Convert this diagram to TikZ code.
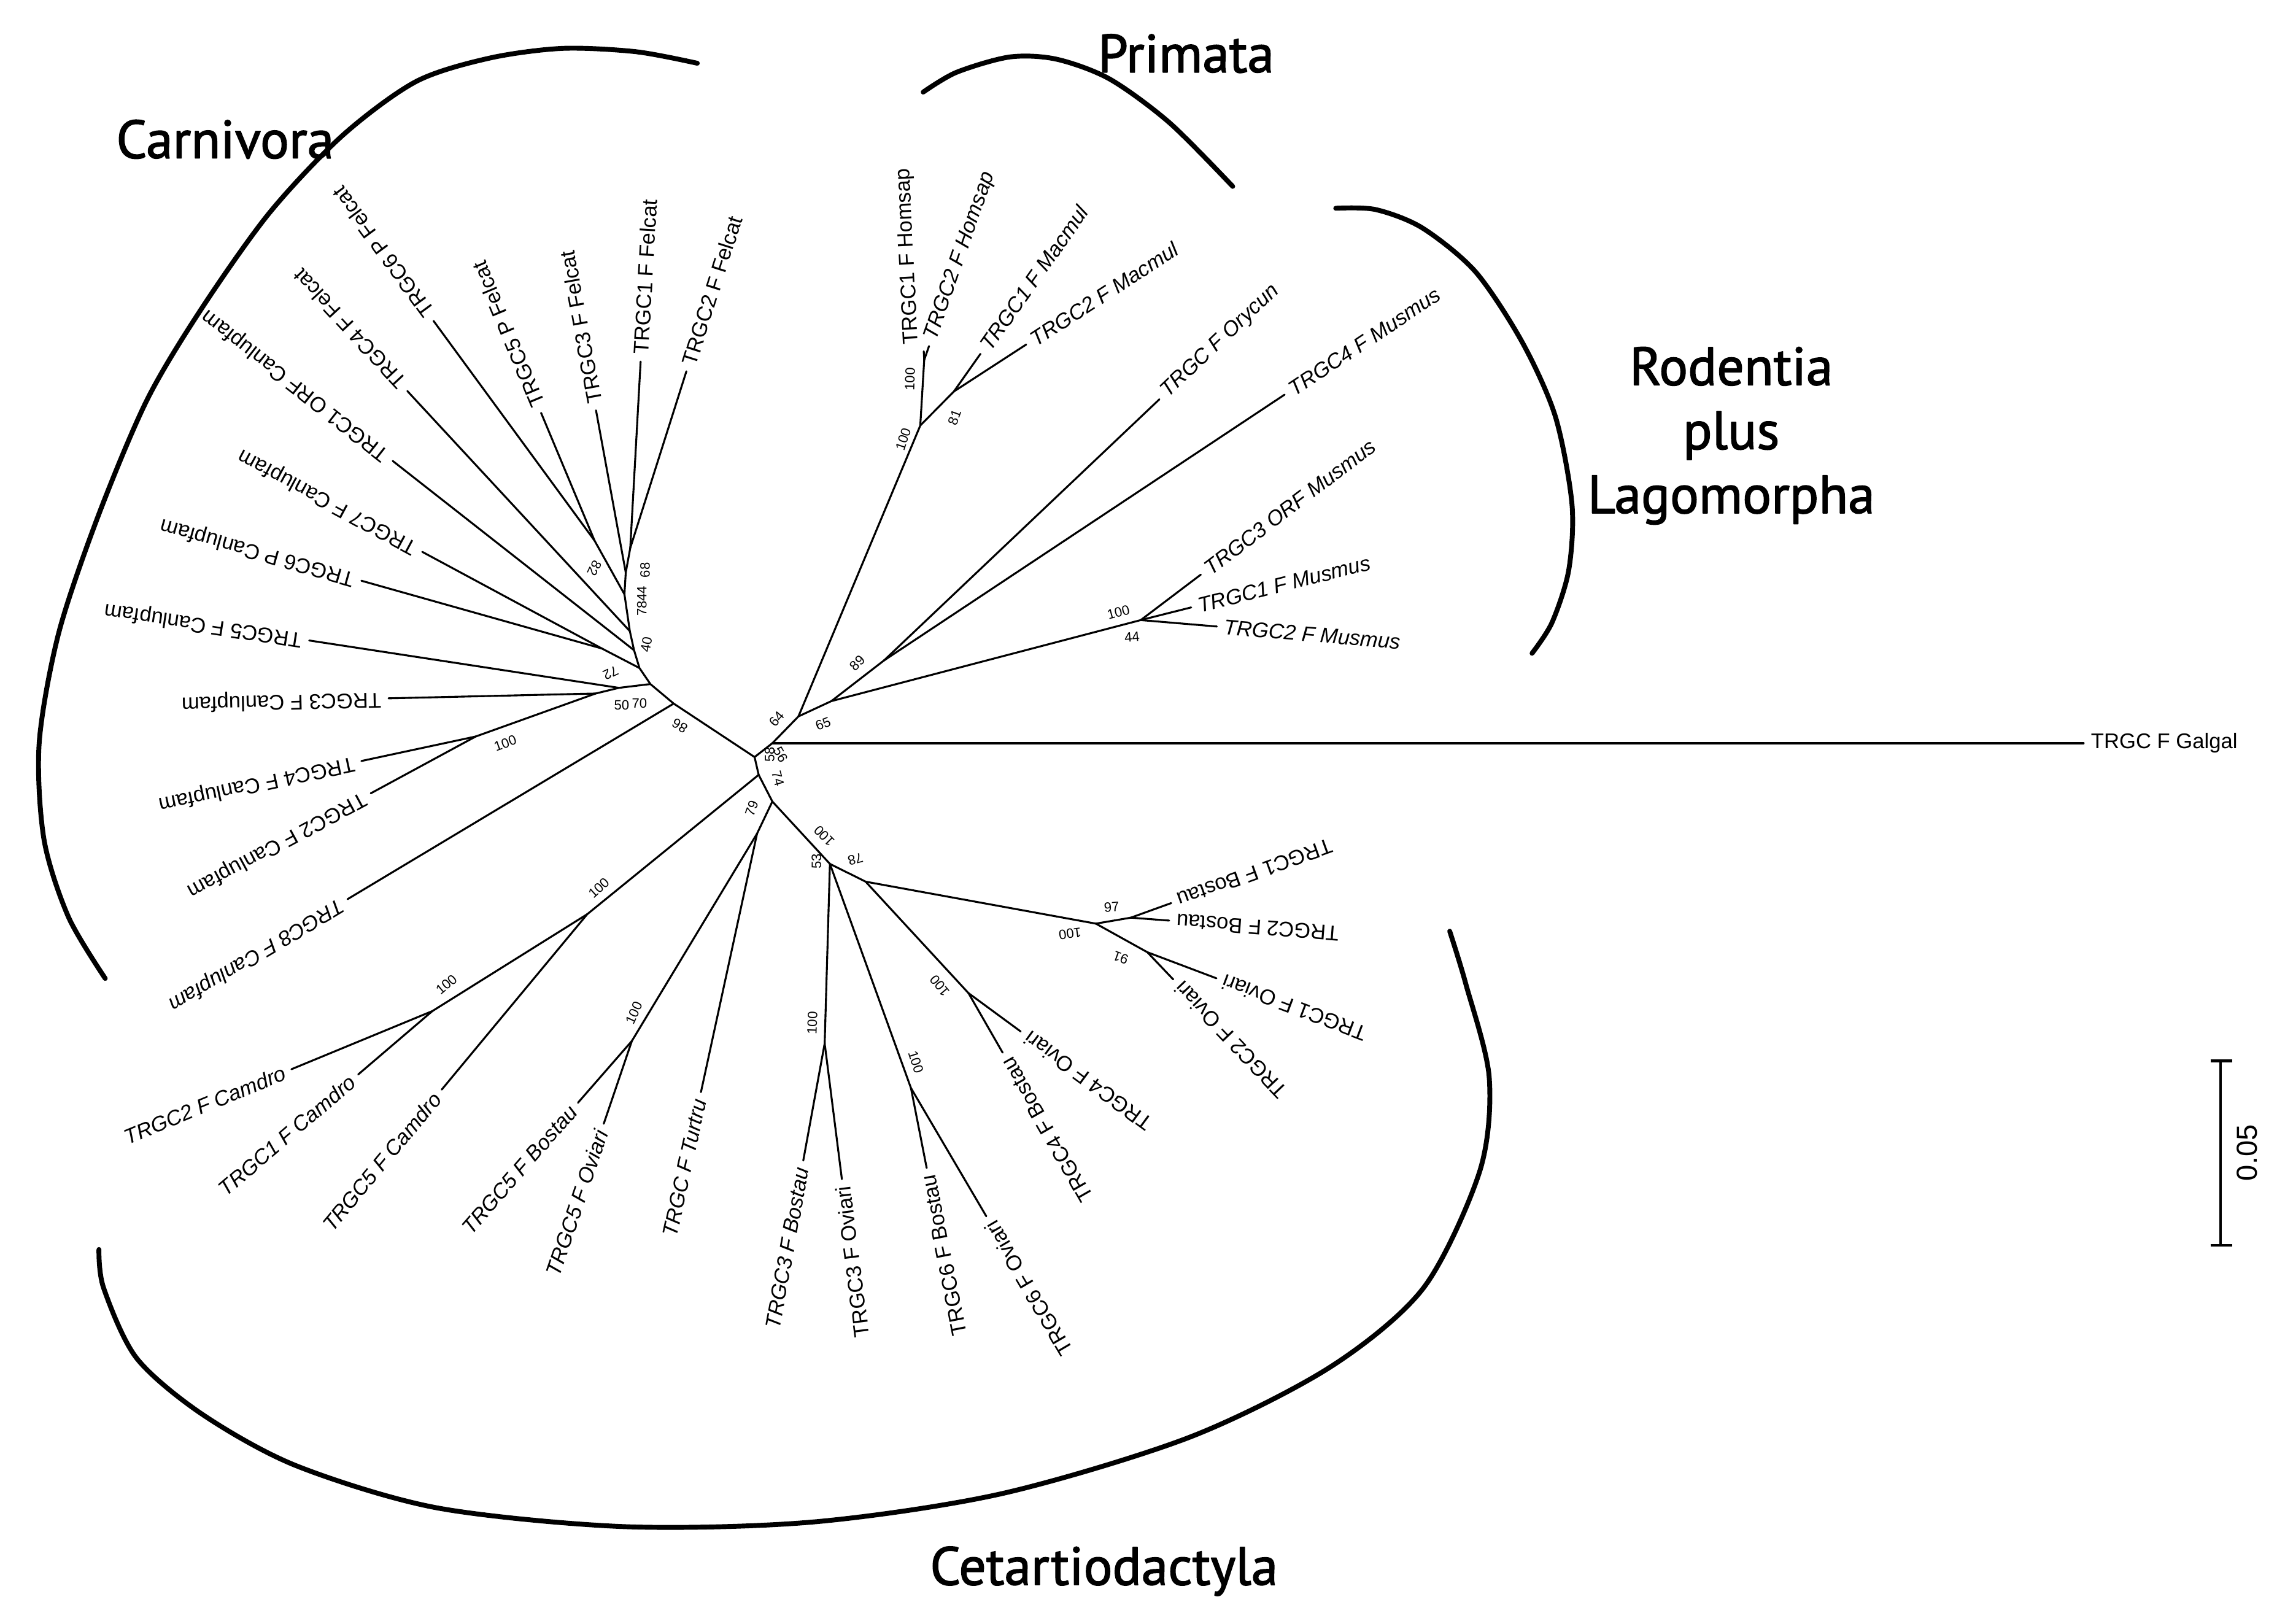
\documentclass[tikz,border=0pt]{standalone}
\usepackage{fontspec}
\setmainfont{Liberation Sans}
\newfontfamily\cladefont[RawFeature={embolden=1.8}]{PT Sans}
\usepackage{tikz}

\begin{document}
\begin{tikzpicture}[x=0.2mm,y=-0.2mm,line cap=round,line join=round,
  branch/.style={line width=0.75pt},
  leaf/.style={font=\fontsize{8.3}{10}\selectfont,inner sep=0pt,inner xsep=2.5pt,sloped,allow upside down},
  leafout/.style={leaf,pos=1,anchor=west},
  leafin/.style={leaf,pos=0,anchor=east},
  leafit/.style={font=\fontsize{8.3}{10}\selectfont\itshape},
  boot/.style={font=\fontsize{5.3}{6}\selectfont,inner sep=0pt},
  clade/.style={line width=1.9pt},
  cladename/.style={font=\cladefont\fontsize{21}{25}\selectfont,inner sep=0pt},
  scalebar/.style={line width=1pt,line cap=butt}]
\useasboundingbox (0,0) rectangle (1568,1114);

% inner nodes
\coordinate (ctr) at (517.8,519.5);
\coordinate (gal0) at (530,510);
\coordinate (pr0) at (547.9,491.6);
\coordinate (ro0) at (570.5,481.1);
\coordinate (ro89) at (606.6,453.2);
\coordinate (mus0) at (782.8,425.5);
\coordinate (pri0) at (631.5,292);
\coordinate (hom0) at (634.2,247);
\coordinate (mac0) at (654.6,268.6);
\coordinate (ca0) at (462.3,482.8);
\coordinate (ca1) at (446.3,469.4);
\coordinate (ca2) at (438.8,458.4);
\coordinate (ca3) at (435.1,446.2);
\coordinate (ca4) at (432.2,433.1);
\coordinate (ca5) at (428.5,407.8);
\coordinate (ca6) at (429.4,392.9);
\coordinate (fel12) at (432.5,376);
\coordinate (cl67) at (413,445);
\coordinate (fel56) at (408,371);
\coordinate (ca7) at (424.7,472);
\coordinate (ca8) at (408.7,475.9);
\coordinate (cl24) at (326.4,505.4);
\coordinate (ce0) at (520.6,531.7);
\coordinate (ce1) at (530,550);
\coordinate (cam0) at (403,627.3);
\coordinate (cam12) at (296.7,693.8);
\coordinate (ce2) at (519.5,572);
\coordinate (bo5) at (433.6,714.3);
\coordinate (ce3) at (569.5,592.8);
\coordinate (ce4) at (594,605);
\coordinate (bo0) at (752,633.8);
\coordinate (bo12) at (776,629.7);
\coordinate (ov12) at (787.3,653.4);
\coordinate (bo4) at (664.6,681.5);
\coordinate (bo3) at (565.9,716);
\coordinate (bo6) at (625.1,746.6);

% leaf ends
\coordinate (gal) at (1429.8,510);
\coordinate (hom1) at (633.9,241);
\coordinate (hom2) at (637.5,237.5);
\coordinate (mac1) at (672.8,242.8);
\coordinate (mac2) at (704.2,236.4);
\coordinate (ory) at (795.6,274);
\coordinate (mus4) at (881.5,270.8);
\coordinate (mus3) at (824,394.3);
\coordinate (mus1) at (817.4,416.8);
\coordinate (mus2) at (835,429.9);
\coordinate (fel6) at (297.5,220.2);
\coordinate (fel5) at (371.3,283.3);
\coordinate (fel3) at (409,281.6);
\coordinate (fel1) at (439.6,248.1);
\coordinate (fel2) at (471,254.8);
\coordinate (fel4) at (279.5,268.3);
\coordinate (can1) at (269.5,316.3);
\coordinate (can7) at (289.8,378.7);
\coordinate (can6) at (248,398.5);
\coordinate (can5) at (212.2,439.5);
\coordinate (can3) at (266.6,479.2);
\coordinate (can4) at (248,522.2);
\coordinate (can2) at (254.4,544.4);
\coordinate (can8) at (238.5,617);
\coordinate (cam2) at (200,733.7);
\coordinate (cam1) at (245.8,737.3);
\coordinate (cam5) at (303.1,747.7);
\coordinate (bos5) at (396.6,756.7);
\coordinate (ovi5) at (414.3,771.1);
\coordinate (tur) at (481,749.4);
\coordinate (bos3) at (551.2,796.4);
\coordinate (ovi3) at (577.7,809.1);
\coordinate (bos6) at (635.9,801.5);
\coordinate (ovi6) at (676.8,834.6);
\coordinate (ovi4) at (700.4,707.8);
\coordinate (bos4) at (688,722.3);
\coordinate (bos1) at (803.7,619.7);
\coordinate (bos2) at (802.3,631.7);
\coordinate (ovi1) at (834.7,671.3);
\coordinate (ovi2) at (805.1,672.1);

% inner branches
\draw[branch] (ctr) -- (ca0);
\draw[branch] (ctr) -- (gal0) -- (pr0) -- (ro0);
\draw[branch] (ctr) -- (ce0);
\draw[branch] (pr0) -- (pri0);
\draw[branch] (ro0) -- (ro89);
\draw[branch] (ro0) -- (mus0);
\draw[branch] (pri0) -- (hom0);
\draw[branch] (pri0) -- (mac0);
\draw[branch] (ca0) -- (ca1) -- (ca2) -- (ca3) -- (ca4) -- (ca5) -- (ca6) -- (fel12);
\draw[branch] (ca2) -- (cl67);
\draw[branch] (ca5) -- (fel56);
\draw[branch] (ca1) -- (ca7) -- (ca8) -- (cl24);
\draw[branch] (ce0) -- (ce1);
\draw[branch] (ce0) -- (cam0) -- (cam12);
\draw[branch] (ce1) -- (ce2) -- (bo5);
\draw[branch] (ce1) -- (ce3) -- (ce4) -- (bo0);
\draw[branch] (bo0) -- (bo12);
\draw[branch] (bo0) -- (ov12);
\draw[branch] (ce4) -- (bo4);
\draw[branch] (ce3) -- (bo3);
\draw[branch] (ce3) -- (bo6);

% leaves
\draw[branch] (gal0) -- (gal) node[leafout] (lgal) {TRGC F Galgal};
\draw[branch] (hom0) -- (hom1) node[leafout,anchor=south west] (lhom1) {TRGC1 F Homsap};
\draw[branch] (hom0) -- (hom2) node[leafout,leafit] (lhom2) {TRGC2 F Homsap};
\draw[branch] (mac0) -- (mac1) node[leafout,leafit] (lmac1) {TRGC1 F Macmul};
\draw[branch] (mac0) -- (mac2) node[leafout,leafit] (lmac2) {TRGC2 F Macmul};
\draw[branch] (ro89) -- (ory) node[leafout,leafit] (lory) {TRGC F Orycun};
\draw[branch] (ro89) -- (mus4) node[leafout,leafit] (lmus4) {TRGC4 F Musmus};
\draw[branch] (mus0) -- (mus3) node[leafout,leafit] (lmus3) {TRGC3 ORF Musmus};
\draw[branch] (mus0) -- (mus1) node[leafout,leafit] (lmus1) {TRGC1 F Musmus};
\draw[branch] (mus0) -- (mus2) node[leafout,leafit] (lmus2) {TRGC2 F Musmus};
\draw[branch] (fel56) -- (fel6) node[leafout] (lfel6) {TRGC6 P Felcat};
\draw[branch] (fel56) -- (fel5) node[leafout] (lfel5) {TRGC5 P Felcat};
\draw[branch] (ca6) -- (fel3) node[leafout] (lfel3) {TRGC3 F Felcat};
\draw[branch] (fel12) -- (fel1) node[leafout] (lfel1) {TRGC1 F Felcat};
\draw[branch] (fel12) -- (fel2) node[leafout] (lfel2) {TRGC2 F Felcat};
\draw[branch] (ca4) -- (fel4) node[leafout] (lfel4) {TRGC4 F Felcat};
\draw[branch] (ca3) -- (can1) node[leafout] (lcan1) {TRGC1 ORF Canlupfam};
\draw[branch] (cl67) -- (can7) node[leafout] (lcan7) {TRGC7 F Canlupfam};
\draw[branch] (cl67) -- (can6) node[leafout] (lcan6) {TRGC6 P Canlupfam};
\draw[branch] (ca7) -- (can5) node[leafout] (lcan5) {TRGC5 F Canlupfam};
\draw[branch] (ca8) -- (can3) node[leafout] (lcan3) {TRGC3 F Canlupfam};
\draw[branch] (cl24) -- (can4) node[leafout] (lcan4) {TRGC4 F Canlupfam};
\draw[branch] (cl24) -- (can2) node[leafout] (lcan2) {TRGC2 F Canlupfam};
\draw[branch] (ca0) -- (can8) node[leafout,leafit] (lcan8) {TRGC8 F Canlupfam};
\draw[branch] (cam2) -- (cam12) node[leafin,leafit] (lcam2) {TRGC2 F Camdro};
\draw[branch] (cam1) -- (cam12) node[leafin,leafit] (lcam1) {TRGC1 F Camdro};
\draw[branch] (cam5) -- (cam0) node[leafin,leafit] (lcam5) {TRGC5 F Camdro};
\draw[branch] (bos5) -- (bo5) node[leafin,leafit] (lbos5) {TRGC5 F Bostau};
\draw[branch] (ovi5) -- (bo5) node[leafin,leafit] (lovi5) {TRGC5 F Oviari};
\draw[branch] (tur) -- (ce2) node[leafin,leafit] (ltur) {TRGC F Turtru};
\draw[branch] (bos3) -- (bo3) node[leafin,leafit] (lbos3) {TRGC3 F Bostau};
\draw[branch] (ovi3) -- (bo3) node[leafin] (lovi3) {TRGC3 F Oviari};
\draw[branch] (bos6) -- (bo6) node[leafin] (lbos6) {TRGC6 F Bostau};
\draw[branch] (ovi6) -- (bo6) node[leafin] (lovi6) {TRGC6 F Oviari};
\draw[branch] (ovi4) -- (bo4) node[leafin] (lovi4) {TRGC4 F Oviari};
\draw[branch] (bos4) -- (bo4) node[leafin] (lbos4) {TRGC4 F Bostau};
\draw[branch] (bos1) -- (bo12) node[leafin] (lbos1) {TRGC1 F Bostau};
\draw[branch] (bos2) -- (bo12) node[leafin] (lbos2) {TRGC2 F Bostau};
\draw[branch] (ovi1) -- (ov12) node[leafin] (lovi1) {TRGC1 F Oviari};
\draw[branch] (ovi2) -- (ov12) node[leafin] (lovi2) {TRGC2 F Oviari};

% bootstrap values
\node[boot,rotate=90] (b68) at (442.6,391.2) {68};
\node[boot,rotate=90] (b78) at (440.4,417.5) {78};
\node[boot,rotate=90] (b44c) at (440.4,407.5) {44};
\node[boot,rotate=80] (b40) at (443.5,442.4) {40};
\node[boot,rotate=245] (b82) at (408,390) {82};
\node[boot,rotate=205] (b72) at (419,462) {72};
\node[boot] (b50) at (426.6,483.7) {50};
\node[boot] (b70) at (438.8,482.5) {70};
\node[boot,rotate=20] (b100j) at (346.7,510) {100};
\node[boot,rotate=150] (b86) at (466.5,498) {86};
\node[boot,rotate=50] (b64) at (532.9,493.3) {64};
\node[boot,rotate=20] (b65) at (564.8,496.8) {65};
\node[boot,rotate=45] (b89) at (588.3,454.9) {89};
\node[boot,rotate=90] (b58) at (528.1,517.8) {58};
\node[boot,rotate=-60] (b56) at (535.7,517.8) {56};
\node[boot,rotate=-75] (b74) at (533.8,534.3) {74};
\node[boot,rotate=70] (b79) at (515.8,554.8) {79};
\node[boot,rotate=88] (b100h) at (624.4,260.2) {100};
\node[boot,rotate=72] (b100p) at (619.8,301.4) {100};
\node[boot,rotate=70] (b81) at (655,286.4) {81};
\node[boot,rotate=15] (b100m) at (767.4,420) {100};
\node[boot,rotate=5] (b44m) at (776.8,437.3) {44};
\node[boot,rotate=135] (b100o) at (565.7,573.6) {100};
\node[boot,rotate=90] (b53) at (560.3,590.9) {53};
\node[boot,rotate=195] (b78c) at (587,589.6) {78};
\node[boot,rotate=5] (b97) at (762.8,622.3) {97};
\node[boot,rotate=188] (b100q) at (734.3,640.7) {100};
\node[boot,rotate=160] (b91) at (769,657.2) {91};
\node[boot,rotate=130] (b100t) at (644.9,676.4) {100};
\node[boot,rotate=88] (b100u) at (557.4,702) {100};
\node[boot,rotate=-72] (b100v) at (628.5,728.7) {100};
\node[boot,rotate=42] (b100c) at (411,609.2) {100};
\node[boot,rotate=40] (b100w) at (306.3,675.6) {100};
\node[boot,rotate=65] (b100x) at (435.2,695) {100};

% clade arcs
\draw[clade] plot[smooth] coordinates {(478.5,43.4) (436.5,35.5) (386,33.2) (335.8,39.9) (285.4,56) (235,93) (184.7,146.3) (137.7,212.7) (100.7,274.8) (67.2,354.5) (40.3,434.3) (26.9,509.7) (30.2,576.1) (47,629.3) (72.2,671.4)};
\draw[clade] plot[smooth] coordinates {(633.5,63.2) (656.4,49.6) (692.9,39.1) (724.9,40.6) (761.4,54.2) (802.5,84.2) (845.9,127.9)};
\draw[clade] plot[smooth] coordinates {(916.6,142.9) (944,143.8) (976,156.4) (1012.5,186.5) (1044.5,234.7) (1067.3,285.8) (1078.7,346) (1076.5,391.1) (1065,427.2) (1051.3,448.3)};
\draw[clade] plot[smooth] coordinates {(67.9,857.4) (71.1,883.8) (93.7,931.9) (138.8,970.5) (203.3,1005.8) (299.9,1034.7) (428.9,1047.6) (557.8,1044.4) (686.7,1025.1) (815.6,986.5) (912.3,938.4) (976.8,883.8) (1015.5,803.4) (1021.9,739.2) (1005.8,675) (994.8,639)};

\node[cladename,anchor=base] (carn) at (154.5,108.5) {Carnivora};
\node[cladename,anchor=base] (prim) at (813.9,49.6) {Primata};
\node[cladename,align=center] (rodl) at (1188,299) {Rodentia\\plus\\Lagomorpha};
\node[cladename,anchor=base] (ceta) at (757.6,1087.5) {Cetartiodactyla};

% scale bar
\coordinate (sbt) at (1523.9,728);
\coordinate (sbb) at (1523.9,854.7);
\coordinate (sbt1) at (1516.9,728);
\coordinate (sbt2) at (1531.6,728);
\coordinate (sbb1) at (1516.9,854.7);
\coordinate (sbb2) at (1531.6,854.7);
\draw[scalebar] (sbt) -- (sbb);
\draw[scalebar] (sbt1) -- (sbt2);
\draw[scalebar] (sbb1) -- (sbb2);
\node[rotate=90,font=\fontsize{11.3}{13}\selectfont,inner sep=0pt] (sblab) at (1542,791) {0.05};
\end{tikzpicture}
\end{document}
